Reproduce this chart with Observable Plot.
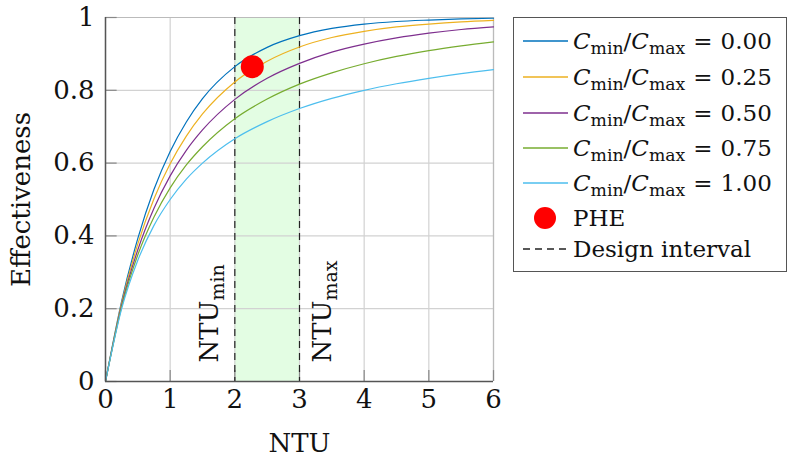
<!DOCTYPE html>
<html><head><meta charset="utf-8">
<script src="https://cdn.jsdelivr.net/npm/d3@7"></script>
<script src="https://cdn.jsdelivr.net/npm/@observablehq/plot@0.6"></script>
<style>
body{margin:0;background:#fff;font-family:"DejaVu Serif",serif;}
#wrap{position:relative;width:787px;height:461px;overflow:hidden;}
#legend{position:absolute;left:513px;top:17px;width:274px;height:255px;border:1.3px solid #555;box-sizing:border-box;background:#fff;font-size:23px;color:#111;}
.row{position:absolute;left:0;height:32px;line-height:32px;white-space:nowrap;}
.row svg{position:absolute;left:0;top:0;}
.row > span{position:absolute;left:59px;top:0;}
sub{font-size:75%;vertical-align:-0.28em;line-height:0;}
.eq{margin:0 8px;}
</style>
</head><body>
<div id="wrap"></div>
<script>
// ---- data ----
const ntu    = [0, 0.25, 0.5, 0.75, 1, 1.25, 1.5, 2, 2.5, 3, 3.5, 4, 4.5, 5, 5.5, 6];
const crLabels = ["0.00", "0.25", "0.50", "0.75", "1.00"];
const eff000 = [0, 0.221, 0.393, 0.528, 0.632, 0.713, 0.777, 0.865, 0.918, 0.950, 0.970, 0.982, 0.989, 0.993, 0.996, 0.998];
const eff025 = [0, 0.216, 0.378, 0.502, 0.598, 0.674, 0.735, 0.823, 0.880, 0.919, 0.945, 0.962, 0.974, 0.982, 0.988, 0.992];
const eff050 = [0, 0.210, 0.362, 0.476, 0.565, 0.635, 0.691, 0.775, 0.833, 0.874, 0.905, 0.927, 0.944, 0.957, 0.967, 0.974];
const eff075 = [0, 0.205, 0.348, 0.452, 0.532, 0.595, 0.645, 0.722, 0.776, 0.817, 0.848, 0.873, 0.893, 0.909, 0.922, 0.933];
const eff100 = [0, 0.200, 0.333, 0.429, 0.500, 0.556, 0.600, 0.667, 0.714, 0.750, 0.778, 0.800, 0.818, 0.833, 0.846, 0.857];
const phe = [{ntu: 2.27, eff: 0.865}];
const designInterval = [2, 3];
const designLabels = ["NTU_min", "NTU_max"];
const xTicks = [0, 1, 2, 3, 4, 5, 6];
const yTicks = [0, 0.2, 0.4, 0.6, 0.8, 1];

const colors = ["#0072BD", "#EDB120", "#7E2F8E", "#77AC30", "#4DBEEE"];
const effSeries = [eff000, eff025, eff050, eff075, eff100];
const rows = crLabels.flatMap((c, i) => ntu.map((n, j) => ({ntu: n, eff: effSeries[i][j], series: c})));

const gridColor = "#d2d2d2";
const axisColor = "#555";

const plot = Plot.plot({
  width: 510, height: 461,
  marginLeft: 105, marginRight: 17, marginTop: 17, marginBottom: 80,
  style: {fontFamily: "'DejaVu Serif', serif", fontSize: "26px", color: "#111", background: "transparent"},
  x: {domain: [0, 6], ticks: xTicks, tickSize: 0, tickPadding: 8, tickFormat: d => String(d), label: "NTU", labelAnchor: "center", labelArrow: "none", labelOffset: 70},
  y: {domain: [0, 1], ticks: yTicks, tickSize: 0, tickPadding: 11, label: "Effectiveness", labelAnchor: "center", labelArrow: "none", labelOffset: 94, tickFormat: d => String(d)},
  color: {domain: crLabels, range: colors},
  marks: [
    Plot.rect([designInterval], {x1: d => d[0], x2: d => d[1], y1: 0, y2: 1, fill: "#e3fde3"}),
    Plot.gridX(xTicks, {stroke: gridColor, strokeOpacity: 1, strokeWidth: 1.2}),
    Plot.gridY(yTicks, {stroke: gridColor, strokeOpacity: 1, strokeWidth: 1.2}),
    Plot.ruleX([6], {stroke: "#bbb", strokeWidth: 1.2}),
    Plot.ruleY([1], {stroke: "#bbb", strokeWidth: 1.2}),
    Plot.ruleX(xTicks, {x: d => d, y1: 0, y2: 0.03, stroke: "#888", strokeWidth: 1.2}),
    Plot.ruleY(yTicks, {y: d => d, x1: 0, x2: 0.18, stroke: "#888", strokeWidth: 1.2}),
    Plot.ruleX(designInterval, {stroke: "#222", strokeWidth: 1.2, strokeDasharray: "7,5"}),
    Plot.line(rows, {x: "ntu", y: "eff", stroke: "series", z: "series", strokeWidth: 1.2, curve: "monotone-x"}),
    Plot.dot(phe, {x: "ntu", y: "eff", r: 11.5, fill: "#ff0000", stroke: "none"}),
    Plot.ruleX([0], {stroke: axisColor, strokeWidth: 1.5}),
    Plot.ruleY([0], {stroke: axisColor, strokeWidth: 1.5}),
    Plot.text(designLabels, {x: (d, i) => designInterval[i], y: 0.052, text: d => d, rotate: -90, textAnchor: "start", lineAnchor: "middle", fontSize: 26, fill: "#111"})
  ]
});

// post-process subscripts and per-label offsets
d3.select(plot).selectAll("text").each(function() {
  const t = this.textContent;
  if (t === "NTU_min" || t === "NTU_max") {
    const sel = d3.select(this);
    sel.text("");
    sel.append("tspan").text("NTU");
    sel.append("tspan").attr("dy", "0.3em").attr("font-size", "19px").text(t === "NTU_min" ? "min" : "max");
    const off = t === "NTU_min" ? -25 : 23;
    const tr = sel.attr("transform") || "";
    sel.attr("transform", `translate(${off},0) ` + tr);
  }
});

const wrap = document.getElementById("wrap");
wrap.appendChild(plot);

// legend
const legend = document.createElement("div");
legend.id = "legend";
wrap.appendChild(legend);
const centers = [23, 59, 95, 130, 165, 200, 231];
crLabels.forEach((c, i) => {
  const r = document.createElement("div");
  r.className = "row";
  r.style.top = (centers[i] - 16) + "px";
  r.innerHTML = `<svg width="58" height="32"><line x1="9" x2="54" y1="16" y2="16" stroke="${colors[i]}" stroke-width="1.4"/></svg>` +
    `<span><i>C</i><sub>min</sub>/<i>C</i><sub>max</sub><span class="eq">=</span>${c}</span>`;
  legend.appendChild(r);
});
{
  const r = document.createElement("div");
  r.className = "row"; r.style.top = (centers[5] - 16) + "px";
  r.innerHTML = `<svg width="58" height="32"><circle cx="31" cy="16" r="11" fill="#ff0000"/></svg><span>PHE</span>`;
  legend.appendChild(r);
}
{
  const r = document.createElement("div");
  r.className = "row"; r.style.top = (centers[6] - 16) + "px";
  r.innerHTML = `<svg width="58" height="32"><line x1="9" x2="54" y1="16" y2="16" stroke="#222" stroke-width="1.3" stroke-dasharray="7,5"/></svg><span>Design interval</span>`;
  legend.appendChild(r);
}
</script>
</body></html>
